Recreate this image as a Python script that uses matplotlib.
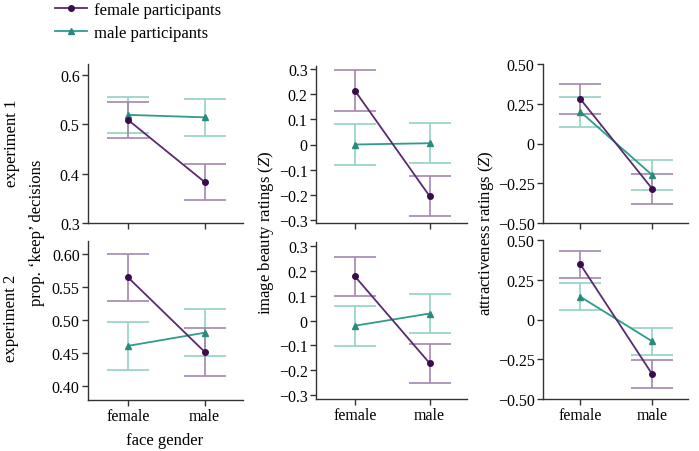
import matplotlib.pyplot as plt
import numpy as np
from matplotlib.lines import Line2D

plt.rcParams['font.family'] = ['Liberation Serif', 'DejaVu Serif']
plt.rcParams['mathtext.fontset'] = 'custom'
plt.rcParams['mathtext.it'] = 'Liberation Serif:italic'
plt.rcParams['mathtext.rm'] = 'Liberation Serif'

face = ['female', 'male']

# experiment 1
keep1_f = [0.509, 0.383]; keep1_f_se = [0.037, 0.037]
keep1_m = [0.519, 0.514]; keep1_m_se = [0.037, 0.037]
beauty1_f = [0.213, -0.204]; beauty1_f_se = [0.080, 0.080]
beauty1_m = [0.000, 0.005]; beauty1_m_se = [0.080, 0.080]
attr1_f = [0.280, -0.284]; attr1_f_se = [0.094, 0.094]
attr1_m = [0.200, -0.198]; attr1_m_se = [0.095, 0.095]

# experiment 2
keep2_f = [0.565, 0.452]; keep2_f_se = [0.036, 0.036]
keep2_m = [0.461, 0.481]; keep2_m_se = [0.036, 0.036]
beauty2_f = [0.178, -0.172]; beauty2_f_se = [0.078, 0.078]
beauty2_m = [-0.021, 0.028]; beauty2_m_se = [0.080, 0.080]
attr2_f = [0.347, -0.343]; attr2_f_se = [0.085, 0.087]
attr2_m = [0.143, -0.137]; attr2_m_se = [0.084, 0.086]

purple_line = '#5a2a6e'
purple_mark = '#3a0c4c'
purple_err = '#a286ae'
teal_line = '#2e9c8c'
teal_mark = '#2a8a7c'
teal_err = '#93d2c6'

fig = plt.figure(figsize=(6.99, 4.52), dpi=100)
W, H = 699, 452

def px_axes(x0, y0, x1, y1):
    return fig.add_axes([x0 / W, 1 - y1 / H, (x1 - x0) / W, (y1 - y0) / H])

def panel(ax, fem, fem_se, mal, mal_se, ylim, yticks, ylabels):
    x = np.arange(2)
    ax.errorbar(x, mal, yerr=mal_se, fmt='none', ecolor=teal_err, elinewidth=1.2,
                capsize=15, capthick=1.2, zorder=1)
    ax.errorbar(x, fem, yerr=fem_se, fmt='none', ecolor=purple_err, elinewidth=1.2,
                capsize=15, capthick=1.2, zorder=1)
    ax.plot(x, mal, color=teal_line, lw=1.3, marker='^', ms=4.5,
            mfc=teal_mark, mec=teal_mark, zorder=3)
    ax.plot(x, fem, color=purple_line, lw=1.3, marker='o', ms=4,
            mfc=purple_mark, mec=purple_mark, zorder=4)
    ax.set_xlim(-0.52, 1.5)
    ax.set_ylim(*ylim)
    ax.set_yticks(yticks)
    ax.set_yticklabels(ylabels)
    ax.set_xticks(x)
    ax.set_xticklabels(face)
    for s in ['top', 'right']:
        ax.spines[s].set_visible(False)
    for s in ['left', 'bottom']:
        ax.spines[s].set_color('#333333')
        ax.spines[s].set_linewidth(1.0)
    ax.tick_params(labelsize=11.5, length=4, width=1.0, color='#333333', pad=2)
    ax.patch.set_alpha(0)

ax1 = px_axes(88, 65, 243, 224)
panel(ax1, keep1_f, keep1_f_se, keep1_m, keep1_m_se, (0.3, 0.622),
      [0.3, 0.4, 0.5, 0.6], ['0.3', '0.4', '0.5', '0.6'])
ax1.set_xticklabels(['', ''])

ax2 = px_axes(316, 67, 467, 224)
panel(ax2, beauty1_f, beauty1_f_se, beauty1_m, beauty1_m_se, (-0.31, 0.31),
      [-0.3, -0.2, -0.1, 0, 0.1, 0.2, 0.3],
      ['\u22120.3', '\u22120.2', '\u22120.1', '0', '0.1', '0.2', '0.3'])
ax2.set_xticklabels(['', ''])

ax3 = px_axes(543, 65, 688, 224)
panel(ax3, attr1_f, attr1_f_se, attr1_m, attr1_m_se, (-0.5, 0.5),
      [-0.5, -0.25, 0, 0.25, 0.5], ['\u22120.50', '\u22120.25', '0', '0.25', '0.50'])
ax3.set_xticklabels(['', ''])

ax4 = px_axes(88, 242, 243, 401)
panel(ax4, keep2_f, keep2_f_se, keep2_m, keep2_m_se, (0.379, 0.62),
      [0.40, 0.45, 0.50, 0.55, 0.60], ['0.40', '0.45', '0.50', '0.55', '0.60'])

ax5 = px_axes(316, 243, 467, 400)
panel(ax5, beauty2_f, beauty2_f_se, beauty2_m, beauty2_m_se, (-0.316, 0.316),
      [-0.3, -0.2, -0.1, 0, 0.1, 0.2, 0.3],
      ['\u22120.3', '\u22120.2', '\u22120.1', '0', '0.1', '0.2', '0.3'])

ax6 = px_axes(543, 241, 688, 400)
panel(ax6, attr2_f, attr2_f_se, attr2_m, attr2_m_se, (-0.5, 0.5),
      [-0.5, -0.25, 0, 0.25, 0.5], ['\u22120.50', '\u22120.25', '0', '0.25', '0.50'])

# row / axis labels
fig.text(12 / W, 1 - 143 / H, 'experiment 1', rotation=90, ha='center', va='center', fontsize=12)
fig.text(11 / W, 1 - 318 / H, 'experiment 2', rotation=90, ha='center', va='center', fontsize=12)
fig.text(37 / W, 1 - 233 / H, 'prop. \u2018keep\u2019 decisions', rotation=90,
         ha='center', va='center', fontsize=12)
fig.text(266 / W, 1 - 233 / H, 'image beauty ratings ($Z$)', rotation=90,
         ha='center', va='center', fontsize=12)
fig.text(486 / W, 1 - 233 / H, 'attractiveness ratings ($Z$)', rotation=90,
         ha='center', va='center', fontsize=12)
fig.text(165 / W, 1 - 441 / H, 'face gender', ha='center', va='center', fontsize=12)

# legend
handles = [Line2D([], [], color=purple_line, lw=1.3, marker='o', ms=4,
                  mfc=purple_mark, mec=purple_mark),
           Line2D([], [], color=teal_line, lw=1.3, marker='^', ms=4.5,
                  mfc=teal_mark, mec=teal_mark)]
fig.legend(handles, ['female participants', 'male participants'],
           loc='upper left', bbox_to_anchor=(55 / W, 0.993), frameon=False,
           fontsize=12, handlelength=1.9, handletextpad=0.45, labelspacing=0.4,
           borderaxespad=0.0, borderpad=0.0)

fig.savefig('out.png', dpi=100)
